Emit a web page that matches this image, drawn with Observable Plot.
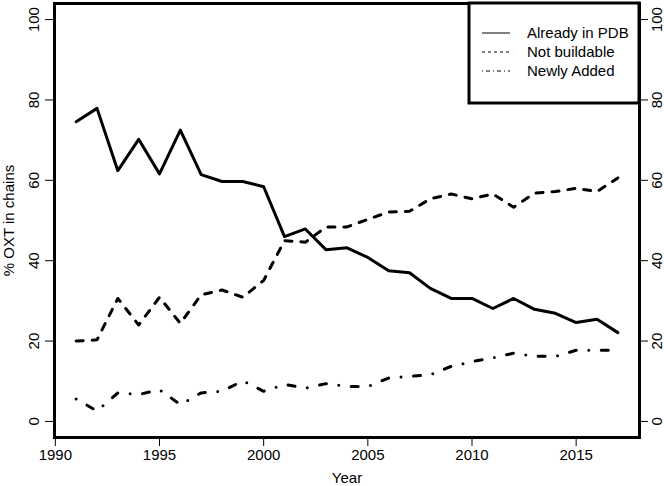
<!DOCTYPE html>
<html>
<head>
<meta charset="utf-8">
<script src="https://cdn.jsdelivr.net/npm/d3@7"></script>
<script src="https://cdn.jsdelivr.net/npm/@observablehq/plot@0.6"></script>
<style>
  html, body { margin: 0; padding: 0; background: white; }
  #wrap { position: relative; width: 664px; height: 486px; font-family: "Liberation Sans", Arial, sans-serif; }
  #legend { position: absolute; left: 0; top: 0; pointer-events: none; }
</style>
</head>
<body>
<div id="wrap"></div>
<script>
const years = [1991,1992,1993,1994,1995,1996,1997,1998,1999,2000,2001,2002,2003,2004,2005,2006,2007,2008,2009,2010,2011,2012,2013,2014,2015,2016,2017];
const alreadyInPDB = [74.6,77.9,62.4,70.2,61.6,72.5,61.4,59.7,59.7,58.4,46.0,47.9,42.7,43.2,40.8,37.5,37.0,33.1,30.6,30.6,28.1,30.6,27.9,26.9,24.6,25.4,22.1];
const notBuildable = [20.0,20.3,30.6,24.0,30.9,24.4,31.5,32.7,30.9,35.1,45.0,44.6,48.4,48.4,50.3,52.1,52.3,55.4,56.6,55.4,56.6,53.3,56.8,57.2,58.0,57.2,60.6];
const newlyAdded = [5.6,2.6,7.1,6.7,7.9,4.2,7.1,7.5,10.1,7.5,9.2,8.3,9.4,8.7,8.7,10.8,11.2,11.6,13.7,14.9,15.8,17.0,16.2,16.2,17.7,17.7,17.7];
const seriesNames = ["Already in PDB", "Not buildable", "Newly Added"];
const xTicks = [1990,1995,2000,2005,2010,2015];
const yTicks = [0,20,40,60,80,100];
const xLabel = "Year";
const yLabel = "% OXT in chains";

const dashes = {"Already in PDB": null, "Not buildable": "7,9", "Newly Added": "0,12.5,7,12.5"};
const seriesValues = [alreadyInPDB, notBuildable, newlyAdded];
const table = seriesNames.flatMap((s, k) => years.map((yr, i) => ({series: s, year: yr, value: seriesValues[k][i]})));

const font = "Liberation Sans, Arial, sans-serif";
const lineMarks = seriesNames.map(s => Plot.lineY(table.filter(d => d.series === s), {
  x: "year", y: "value", stroke: "black", strokeWidth: 3,
  strokeDasharray: dashes[s], strokeLinecap: "round", strokeLinejoin: "round"
}));

const chart = Plot.plot({
  width: 664, height: 486,
  marginLeft: 54, marginRight: 25, marginTop: 3, marginBottom: 49,
  x: {domain: [1989.96, 2018.04]},
  y: {domain: [-4, 104]},
  style: {fontFamily: font, fontSize: "15px", color: "black", background: "white", overflow: "visible"},
  marks: [
    ...lineMarks,
    Plot.axisX({ticks: xTicks, tickFormat: d => String(d), tickSize: 9, tickPadding: 3, strokeWidth: 1, fontSize: 15, label: null}),
    Plot.axisY({anchor: "left", ticks: yTicks, tickFormat: d => String(d), tickSize: 9, tickPadding: 7, tickRotate: -90, textAnchor: "middle", lineAnchor: "bottom", fontSize: 15, label: null}),
    Plot.axisY({anchor: "right", ticks: yTicks, tickFormat: d => String(d), tickSize: 8, tickPadding: 4, tickRotate: -90, textAnchor: "middle", lineAnchor: "top", fontSize: 15, label: null}),
    Plot.text([xLabel], {text: d => d, frameAnchor: "bottom", dy: 41, textAnchor: "middle", lineAnchor: "middle", fontSize: 15}),
    Plot.text([yLabel], {text: d => d, frameAnchor: "left", dx: -45, rotate: -90, textAnchor: "middle", lineAnchor: "middle", fontSize: 15}),
    Plot.frame({stroke: "black", strokeWidth: 3})
  ]
});

const wrap = document.getElementById("wrap");
wrap.appendChild(chart);

// legend (drawn over the plot's upper-right corner)
const ns = "http://www.w3.org/2000/svg";
const leg = document.createElementNS(ns, "svg");
leg.setAttribute("id", "legend");
leg.setAttribute("width", 664);
leg.setAttribute("height", 486);
const box = document.createElementNS(ns, "rect");
box.setAttribute("x", 469); box.setAttribute("y", 3);
box.setAttribute("width", 170); box.setAttribute("height", 100);
box.setAttribute("fill", "white"); box.setAttribute("stroke", "black"); box.setAttribute("stroke-width", 3);
leg.appendChild(box);
const legDash = {"Already in PDB": null, "Not buildable": "3,3", "Newly Added": "1,3,4,3"};
seriesNames.forEach((s, i) => {
  const yy = 33 + i * 19;
  const ln = document.createElementNS(ns, "line");
  ln.setAttribute("x1", 482); ln.setAttribute("x2", 510);
  ln.setAttribute("y1", yy); ln.setAttribute("y2", yy);
  ln.setAttribute("stroke", "black"); ln.setAttribute("stroke-width", 1);
  if (legDash[s]) ln.setAttribute("stroke-dasharray", legDash[s]);
  leg.appendChild(ln);
  const tx = document.createElementNS(ns, "text");
  tx.setAttribute("x", 527); tx.setAttribute("y", yy);
  tx.setAttribute("dy", "0.35em");
  tx.setAttribute("font-family", font);
  tx.setAttribute("font-size", 15);
  tx.textContent = s;
  leg.appendChild(tx);
});
wrap.appendChild(leg);
</script>
</body>
</html>
